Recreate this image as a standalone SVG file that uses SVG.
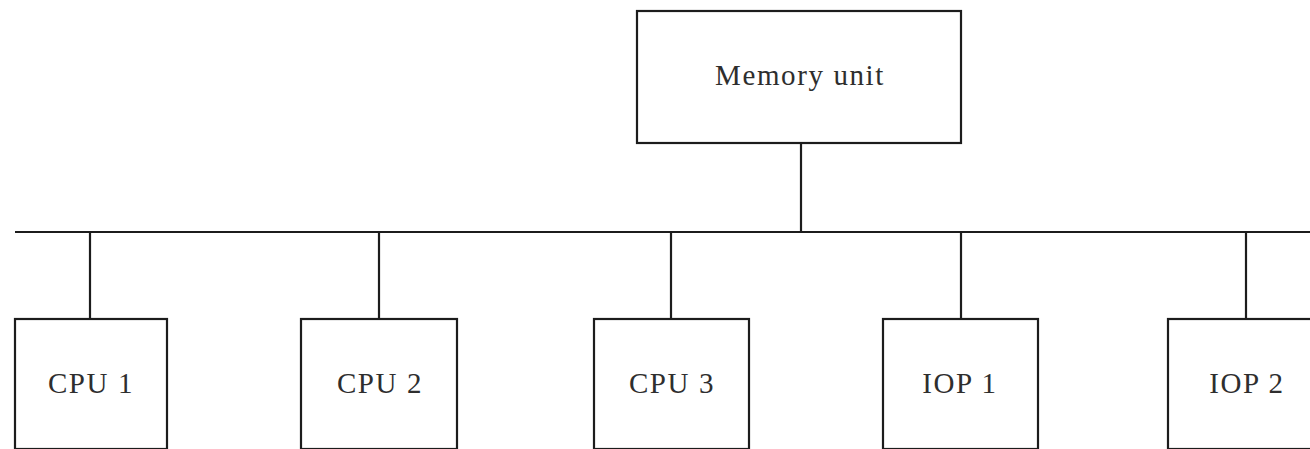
<svg xmlns="http://www.w3.org/2000/svg" width="1310" height="449" viewBox="0 0 1310 449">
<style>
.box{fill:#fff;stroke:#1c1c1c;stroke-width:2.2}
.ln{stroke:#1c1c1c;stroke-width:2.2;fill:none}
.lbl{font-family:"Liberation Serif","Times New Roman",serif;font-size:29px;fill:#2e2e2e;text-anchor:middle;letter-spacing:1.6px}
</style>
<rect width="1310" height="449" fill="#fff"/>
<g id="connectors">
<line class="ln" x1="15" y1="232" x2="1310" y2="232"/>
<line class="ln" x1="801" y1="143" x2="801" y2="232"/>
<line class="ln" x1="90" y1="232" x2="90" y2="319"/>
<line class="ln" x1="379" y1="232" x2="379" y2="319"/>
<line class="ln" x1="671" y1="232" x2="671" y2="319"/>
<line class="ln" x1="961" y1="232" x2="961" y2="319"/>
<line class="ln" x1="1246" y1="232" x2="1246" y2="319"/>
</g>
<g id="memory">
<rect class="box" x="637" y="11" width="324" height="132"/>
<text class="lbl" x="800" y="85">Memory unit</text>
</g>
<g id="cpu1">
<rect class="box" x="15" y="319" width="152" height="130"/>
<text class="lbl" x="91" y="393">CPU 1</text>
</g>
<g id="cpu2">
<rect class="box" x="301" y="319" width="156" height="130"/>
<text class="lbl" x="380" y="393">CPU 2</text>
</g>
<g id="cpu3">
<rect class="box" x="594" y="319" width="155" height="130"/>
<text class="lbl" x="672" y="393">CPU 3</text>
</g>
<g id="iop1">
<rect class="box" x="883" y="319" width="155" height="130"/>
<text class="lbl" x="960" y="393">IOP 1</text>
</g>
<g id="iop2">
<rect class="box" x="1168" y="319" width="160" height="130"/>
<text class="lbl" x="1247" y="393">IOP 2</text>
</g>
</svg>
